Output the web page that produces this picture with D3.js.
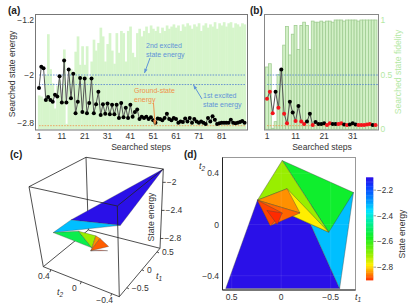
<!DOCTYPE html>
<html>
<head>
<meta charset="utf-8">
<script src="https://cdn.jsdelivr.net/npm/d3@7"></script>
<style>
  html, body { margin: 0; padding: 0; background: #fff; }
  text { font-family: "Liberation Sans", Arial, sans-serif; }
</style>
</head>
<body>
<script>
// panel (a): energy and fidelity per searched step
var energyA = [-2.22,-1.88,-1.90,-2.42,-2.37,-2.42,-2.45,-2.33,-2.36,-2.02,-2.46,-1.79,-2.46,-1.92,-2.39,-1.98,
  -2.64,-2.45,-2.05,-2.62,-2.06,-2.64,-2.47,-2.06,-2.64,-2.49,-2.28,-2.67,-2.49,-2.65,-2.48,-2.66,-2.50,-2.66,-2.50,
  -2.72,-2.47,-2.71,-2.55,-2.72,-2.50,-2.70,-2.62,-2.58,-2.74,-2.70,-2.72,-2.70,-2.74,-2.71,-2.76,-2.80,-2.73,-2.74,
  -2.76,-2.72,-2.65,-2.74,-2.76,-2.72,-2.74,-2.80,-2.78,-2.79,-2.73,-2.78,-2.72,-2.80,-2.74,-2.78,-2.80,-2.78,-2.80,
  -2.82,-2.72,-2.78,-2.69,-2.75,-2.82,-2.81,-2.80,-2.80,-2.80,-2.80,-2.75,-2.80,-2.81,-2.80,-2.79,-2.77,-2.80];
var fidelityA = [.31,.30,.28,.50,.87,.55,.42,.19,.40,.45,.30,.73,.05,.45,.55,.48,.71,.85,.59,.76,.59,.76,.47,.62,
  .82,.72,.79,.93,.85,.62,.78,.88,.72,.60,.88,.70,.90,.88,.62,.90,.94,.70,.66,.88,.92,.85,.90,.94,.88,.95,.92,.90,
  .94,.88,.93,.90,.95,.92,.94,.96,.93,.95,.90,.96,.94,.97,.95,.92,.96,.94,.97,.90,.95,.97,.93,.96,.94,.98,.92,.97,
  .95,.98,.94,.97,.98,.93,.97,.96,.94,.97,.96];

// panel (b)
var energyB = [-2.40,-2.28,-2.64,-2.28,-2.55,-1.92,-2.65,-2.81,-2.45,-2.63,-2.77,-2.52,-2.78,-2.82,-2.78,-2.65,
  -2.84,-2.79,-2.82,-2.82,-2.81,-2.84,-2.81,-2.82,-2.82,-2.82,-2.81,-2.83,-2.84,-2.83,-2.81,-2.83,-2.84,-2.84,-2.84,
  -2.83,-2.82,-2.84,-2.84];
var fidelityB = [.57,.60,.01,.07,.50,.54,.77,.94,.68,.87,.95,.73,.95,.98,.95,.73,.99,.98,.98,.99,.98,.99,.99,.98,
  1,1,1,.99,1,1,1,1,.99,1,1,1,1,1,1];
var redStepsB = [1,2,3,5,7,8,11,13,14,17,22,23,26,27,29,33,34,35,36,37,39];

var levels = { second: -2.0, first: -2.16, ground: -2.85 };
var stepTicksA = [1,11,21,31,41,51,61,71,81];
var stepTicksB = [1,11,21,31];
var energyTicks = [-1.2,-2,-2.8];
var fidelityTicks = [0,0.5,1];

// simplex vertices in parameter space, panel (d): t1, t2
var vD = {
  A:[.56,-.50], B:[-.59,-.50], C:[.24,.19], D:[-.48,-.06], E:[-.73,.25], F:[-.01,.50], G:[-.06,.28],
  H:[-.19,.09], H2:[-.225,.125], I:[.11,-.01], J:[-.01,.09], K:[.145,.11], L:[.04,0]
};
var polysD = [
  { pts:["A","B","H2","C"], energy:-2.10 },
  { pts:["B","E","H2"], energy:-2.32 },
  { pts:["F","E","D"], energy:-2.55 },
  { pts:["C","F","D"], energy:-2.70 },
  { pts:["G","D","C"], energy:-2.78 },
  { pts:["C","G","H"], energy:-2.84 },
  { pts:["C","H","I"], energy:-2.865 },
  { pts:["C","J","I"], energy:-2.885 },
  { pts:["K","J","L"], energy:-2.90 }
];

// panel (c): t1, t2, energy
var vC = {
  a:[.60,-.50,-1.81], b:[-.67,-.50,-2.08], c:[-.37,.24,-2.33], d:[-.63,.355,-2.45], e:[-.08,.30,-2.62],
  f:[-.09,.13,-2.80], g:[.07,.09,-2.72], h:[.14,.01,-2.84], i:[-.07,.16,-2.86], j:[.13,.02,-2.90],
  k:[.09,.10,-2.90], l:[.07,.145,-2.70]
};
var polysC = [
  { pts:["a","b","c"], energy:-2.10 },
  { pts:["c","b","d"], energy:-2.32 },
  { pts:["d","e","f"], energy:-2.52 },
  { pts:["e","l","f"], energy:-2.70 },
  { pts:["l","g","i","f"], energy:-2.84 },
  { pts:["g","h","i"], energy:-2.87 },
  { pts:["k","j","i"], energy:-2.90 }
];
var barTicks = [-2.2,-2.4,-2.6,-2.8];

var textCol = "#333";
var blueCol = "#5f93d8";
var orangeCol = "#f0914a";

var svg = d3.select("body").append("svg").attr("width", 415).attr("height", 306).style("display", "block");

// axis labels are sometimes not evenly spaced in the source, so energy is piecewise
var yEnergy = d3.scaleLinear().domain([-1.2,-2,-2.8]).range([20,75,122.7]);
var yFid = d3.scaleLinear().domain([0,1]).range([129.3,20]);
var xA = d3.scaleLinear().domain([1,81]).range([39,221.7]);
var xB = d3.scaleLinear().domain([1,31]).range([267,352.7]);

var colorScale = d3.scaleLinear()
  .domain([-2.1,-2.17,-2.27,-2.36,-2.45,-2.56,-2.7,-2.78,-2.84,-2.9])
  .range(["#2a10e8","#0a3cff","#0090ff","#00e5ff","#00ee99","#11ee22","#99ee00","#ffee00","#ff9000","#ff2a00"]);

function label(g, x, y, str, size, anchor, col, rot) {
  var t = g.append("text").attr("x", x).attr("y", y).attr("font-size", size)
    .attr("text-anchor", anchor || "middle").attr("fill", col || textCol).text(str);
  if (rot) t.attr("transform", "rotate(" + rot + " " + x + " " + y + ")");
  return t;
}

function minus(v) { return String(v).replace("-", "\u2212"); }

function arrow(g, x1, y1, x2, y2, col) {
  g.append("line").attr("x1", x1).attr("y1", y1).attr("x2", x2).attr("y2", y2)
    .attr("stroke", col).attr("stroke-width", 1);
  var ang = Math.atan2(y2 - y1, x2 - x1);
  var pts = [[x2, y2],
    [x2 - 4.5 * Math.cos(ang - .4), y2 - 4.5 * Math.sin(ang - .4)],
    [x2 - 4.5 * Math.cos(ang + .4), y2 - 4.5 * Math.sin(ang + .4)]];
  g.append("polygon").attr("points", pts.join(" ")).attr("fill", col);
}

function linePanel(g, x, energy, fidelity, barFill, barStroke, lineLeft, lineRight) {
  var w = x(2) - x(1);
  g.selectAll("rect.bar").data(fidelity).enter().append("rect").attr("class", "bar")
    .attr("x", function(d, i) { return x(i + 1) - w / 2; })
    .attr("y", function(d) { return yFid(d); })
    .attr("width", barStroke ? w : w + .4)
    .attr("height", function(d) { return yFid(0) - yFid(d); })
    .attr("fill", barFill)
    .attr("stroke", barStroke || "none")
    .attr("stroke-width", .8);

  [levels.second, levels.first].forEach(function(v) {
    g.append("line").attr("x1", lineLeft).attr("x2", lineRight)
      .attr("y1", yEnergy(v)).attr("y2", yEnergy(v))
      .attr("stroke", "#4f7fd0").attr("stroke-width", .8).attr("stroke-dasharray", "1.6,1.2");
  });
  g.append("line").attr("x1", lineLeft).attr("x2", lineRight)
    .attr("y1", yEnergy(levels.ground)).attr("y2", yEnergy(levels.ground))
    .attr("stroke", orangeCol).attr("stroke-width", .8).attr("stroke-dasharray", "1.6,1.2");

  var line = d3.line().x(function(d, i) { return x(i + 1); }).y(function(d) { return yEnergy(d); });
  g.append("path").attr("d", line(energy)).attr("fill", "none").attr("stroke", "#555").attr("stroke-width", 1);
}

// ---------- panel (a)
var gA = svg.append("g");
linePanel(gA, xA, energyA, fidelityA, "#d6f5cb", null, 39, 246);
gA.selectAll("circle").data(energyA).enter().append("circle")
  .attr("cx", function(d, i) { return xA(i + 1); })
  .attr("cy", function(d) { return yEnergy(d); })
  .attr("r", 2).attr("fill", "#000");
gA.append("rect").attr("x", 35.5).attr("y", 14.5).attr("width", 212).attr("height", 115.5)
  .attr("fill", "none").attr("stroke", "#777").attr("stroke-width", 1);

stepTicksA.forEach(function(s) { label(gA, xA(s), 139, s, 8.5); });
energyTicks.forEach(function(v) { label(gA, 34, yEnergy(v) + 3, minus(v), 8.5, "end"); });
label(gA, 15, 74, "Searched state energy", 8.6, "middle", textCol, -90);
label(gA, 141, 150, "Searched steps", 8.6);

label(gA, 146, 47.5, "2nd excited", 7, "start", blueCol);
label(gA, 146, 57, "state energy", 7, "start", blueCol);
arrow(gA, 150, 58, 144.5, 73, blueCol);
label(gA, 203, 97.5, "1st excited", 7, "start", blueCol);
label(gA, 203, 106.5, "state energy", 7, "start", blueCol);
arrow(gA, 202, 99, 193.5, 85, blueCol);
label(gA, 134, 93, "Ground-state", 7, "start", orangeCol);
label(gA, 134, 102, "energy", 7, "start", orangeCol);
arrow(gA, 153.5, 103, 155, 124.5, orangeCol);

// ---------- panel (b)
var gB = svg.append("g");
linePanel(gB, xB, energyB, fidelityB, "#d2f0c6", "#a0cc92", 267, 379);
gB.selectAll("circle").data(energyB).enter().append("circle")
  .attr("cx", function(d, i) { return xB(i + 1); })
  .attr("cy", function(d) { return yEnergy(d); })
  .attr("r", 2)
  .attr("fill", function(d, i) { return redStepsB.indexOf(i + 1) >= 0 ? "#f5141c" : "#000"; });
gB.append("rect").attr("x", 264.5).attr("y", 14.5).attr("width", 114).attr("height", 115.5)
  .attr("fill", "none").attr("stroke", "#888").attr("stroke-width", 1);
stepTicksB.forEach(function(s) { label(gB, xB(s), 139, s, 8.5); });
fidelityTicks.forEach(function(v) { label(gB, 380.5, yFid(v) + 3, v, 8.5, "start", "#b4e8a4"); });
label(gB, 401, 72, "Searched state fidelity", 8.6, "middle", "#b4e8a4", -90);
label(gB, 322, 150, "Searched steps", 8.6);

// ---------- panel (c): box corners come from a trilinear projection
var boxT1 = d3.scaleLinear().domain([-.75,.60]).range([0,1]);
var boxT2 = d3.scaleLinear().domain([-.50,.50]).range([0,1]);
var boxE = d3.scaleLinear().domain([-2.94,-1.81]).range([0,1]);
var corners = {
  b00:[119.3,296.7], b10:[160,248.3], b01:[43.3,266.7], b11:[88.3,230],
  t00:[117.3,206], t10:[163.3,169], t01:[29,186.7], t11:[86,157.3]
};
function lerp(p, q, f) { return [p[0] + (q[0] - p[0]) * f, p[1] + (q[1] - p[1]) * f]; }
function project(t1, t2, e) {
  var u = boxT1(t1), v = boxT2(t2), w = boxE(e);
  var bot = lerp(lerp(corners.b00, corners.b10, u), lerp(corners.b01, corners.b11, u), v);
  var top = lerp(lerp(corners.t00, corners.t10, u), lerp(corners.t01, corners.t11, u), v);
  return lerp(bot, top, w);
}
var gC = svg.append("g");
function boxEdge(p, q, col) {
  gC.append("line").attr("x1", p[0]).attr("y1", p[1]).attr("x2", q[0]).attr("y2", q[1])
    .attr("stroke", col || "#222").attr("stroke-width", .8);
}
[["b01","b00"],["b00","b10"],["b01","b11"],["b11","b10"],["b11","t11"]].forEach(function(e) {
  boxEdge(corners[e[0]], corners[e[1]]);
});
gC.selectAll("polygon").data(polysC).enter().append("polygon")
  .attr("points", function(d) {
    return d.pts.map(function(k) { return project(vC[k][0], vC[k][1], vC[k][2]); }).join(" ");
  })
  .attr("fill", function(d) { return colorScale(d.energy); })
  .attr("stroke", "#333").attr("stroke-width", .3);
[["t01","t11"],["t11","t10"],["t10","t00"],["t00","t01"],["t01","b01"],["t00","b00"],["t10","b10"]].forEach(function(e) {
  boxEdge(corners[e[0]], corners[e[1]]);
});
[-2,-2.4,-2.8].forEach(function(v) {
  var p = project(.6, -.5, v);
  boxEdge(p, [p[0] + 3, p[1]]);
  label(gC, p[0] + 4, p[1] + 3, minus(v), 8.5, "start");
});
[.5,0,-.5].forEach(function(v) {
  var p = project(v, -.5, -2.94);
  boxEdge(p, [p[0] + 2, p[1] + 1]);
  label(gC, p[0] + 5, p[1] + 3, minus(v), 8.5, "start");
});
[.4,0,-.4].forEach(function(v) {
  var p = project(-.75, v, -2.94);
  boxEdge(p, [p[0] - 1, p[1] + 2.5]);
  label(gC, p[0] - 7, p[1] + 9, minus(v), 8.5);
});
label(gC, 154, 217, "State energy", 8.6, "middle", textCol, -90);
function tLabel(g, x, y, sub) {
  var t = g.append("text").attr("x", x).attr("y", y).attr("font-size", 9).attr("font-style", "italic")
    .attr("fill", textCol).attr("text-anchor", "middle");
  t.append("tspan").text("t");
  t.append("tspan").attr("font-size", 6.5).attr("dy", 2).text(sub);
}
tLabel(gC, 60, 295, "2");
tLabel(gC, 159, 279, "1");

// ---------- panel (d)
var xD = d3.scaleLinear().domain([.5,-.5]).range([231.7,330.7]);
var yD = d3.scaleLinear().domain([.4,-.4]).range([173.3,275.7]);
var gD = svg.append("g");
gD.selectAll("polygon").data(polysD).enter().append("polygon")
  .attr("points", function(d) {
    return d.pts.map(function(k) { return [xD(vD[k][0]), yD(vD[k][1])]; }).join(" ");
  })
  .attr("fill", function(d) { return colorScale(d.energy); })
  .attr("stroke", "#444").attr("stroke-width", .4);
// faint mesh lines on top of the surface
[.5,0,-.5].forEach(function(v) {
  gD.append("line").attr("x1", xD(v)).attr("x2", xD(v)).attr("y1", 158).attr("y2", 290)
    .attr("stroke", "#fff").attr("stroke-opacity", .12).attr("stroke-width", .7);
});
[.4,0,-.4].forEach(function(v) {
  gD.append("line").attr("x1", 223).attr("x2", 355).attr("y1", yD(v)).attr("y2", yD(v))
    .attr("stroke", "#fff").attr("stroke-opacity", .12).attr("stroke-width", .7);
});
gD.append("rect").attr("x", 222.5).attr("y", 157.5).attr("width", 133).attr("height", 132.5)
  .attr("fill", "none").attr("stroke", "#999").attr("stroke-width", 1);
gD.append("path").attr("d", "M222.5,157.5V290H355.5").attr("fill", "none").attr("stroke", "#222").attr("stroke-width", 1);
[.5,0,-.5].forEach(function(v) { label(gD, xD(v), 300, minus(v), 8.5); });
[.4,0,-.4].forEach(function(v) { label(gD, 219, yD(v) + 3, minus(v), 8.5, "end"); });
tLabel(gD, 202, 169, "2");
tLabel(gD, 358, 300, "1");

// colour bar
var cbY = d3.scaleLinear().domain([-2.1,-2.9]).range([177.3,280]);
var cbSteps = d3.range(-2.1, -2.9, -0.01);
gD.selectAll("rect.cb").data(cbSteps).enter().append("rect").attr("class", "cb")
  .attr("x", 366).attr("width", 7.3)
  .attr("y", function(d) { return cbY(d); })
  .attr("height", cbY(-2.11) - cbY(-2.1) + .4)
  .attr("fill", function(d) { return colorScale(d); });
barTicks.forEach(function(v) {
  gD.append("line").attr("x1", 373.5).attr("x2", 376).attr("y1", cbY(v)).attr("y2", cbY(v)).attr("stroke", "#555").attr("stroke-width", .6);
  label(gD, 377, cbY(v) + 3, minus(v), 8.2, "start");
});
label(gD, 405, 234, "State energy", 8.6, "middle", textCol, -90);

// panel letters
[["(a)",8,14],["(b)",250,14],["(c)",10,158],["(d)",184,158]].forEach(function(d) {
  label(svg, d[1], d[2], d[0], 10, "start", "#222").attr("font-weight", "bold");
});
</script>
</body>
</html>
